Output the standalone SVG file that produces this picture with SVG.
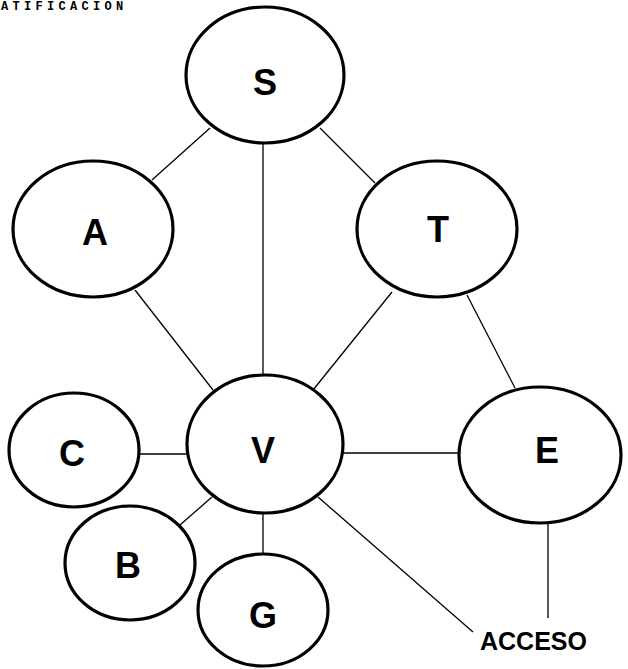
<svg xmlns="http://www.w3.org/2000/svg" width="628" height="669" viewBox="0 0 628 669">
<style>
.n{fill:#fff;stroke:#000;stroke-width:3.2}
.l{font-family:"Liberation Sans",Arial,sans-serif;font-weight:bold;font-size:36px;text-anchor:middle;fill:#000}
.c line{stroke:#000;stroke-width:1.3}
.t{font-family:"Liberation Mono","Courier New",monospace;font-weight:bold;font-size:12px;letter-spacing:4.3px;fill:#000}
.acc{font-family:"Liberation Sans",Arial,sans-serif;font-weight:bold;font-size:25px;fill:#000}
</style>
<rect width="628" height="669" fill="#fff"/>
<text class="t" x="1" y="10">ATIFICACION</text>
<g class="c" id="connectors">
<line x1="210" y1="128" x2="152" y2="180"/>
<line x1="320" y1="128" x2="375" y2="183"/>
<line x1="263" y1="143" x2="263" y2="375"/>
<line x1="135" y1="290" x2="213" y2="390"/>
<line x1="392" y1="292" x2="313" y2="390"/>
<line x1="467" y1="295" x2="515" y2="388"/>
<line x1="343" y1="453" x2="458" y2="453"/>
<line x1="137" y1="454" x2="187" y2="454"/>
<line x1="212" y1="497" x2="180" y2="525"/>
<line x1="263" y1="513" x2="263" y2="555"/>
<line x1="318" y1="497" x2="473" y2="632"/>
<line x1="548" y1="523" x2="548" y2="618"/>
</g>
<g id="S"><ellipse class="n" cx="265" cy="75" rx="79" ry="68"/><text class="l" x="265" y="95">S</text></g>
<g id="A"><ellipse class="n" cx="93" cy="229" rx="80" ry="68"/><text class="l" x="95" y="245">A</text></g>
<g id="T"><ellipse class="n" cx="437" cy="229" rx="80" ry="68"/><text class="l" x="438" y="242">T</text></g>
<g id="V"><ellipse class="n" cx="265" cy="444" rx="78" ry="69"/><text class="l" x="263" y="463">V</text></g>
<g id="E"><ellipse class="n" cx="540" cy="455" rx="81" ry="68"/><text class="l" x="547" y="463">E</text></g>
<g id="C"><ellipse class="n" cx="74" cy="450" rx="65" ry="57"/><text class="l" x="72" y="466">C</text></g>
<g id="B"><ellipse class="n" cx="130" cy="563" rx="65" ry="57"/><text class="l" x="128" y="578">B</text></g>
<g id="G"><ellipse class="n" cx="263" cy="610" rx="65" ry="56"/><text class="l" x="263" y="628">G</text></g>
<g id="ACCESO"><text class="acc" x="480" y="650">ACCESO</text></g>
</svg>
